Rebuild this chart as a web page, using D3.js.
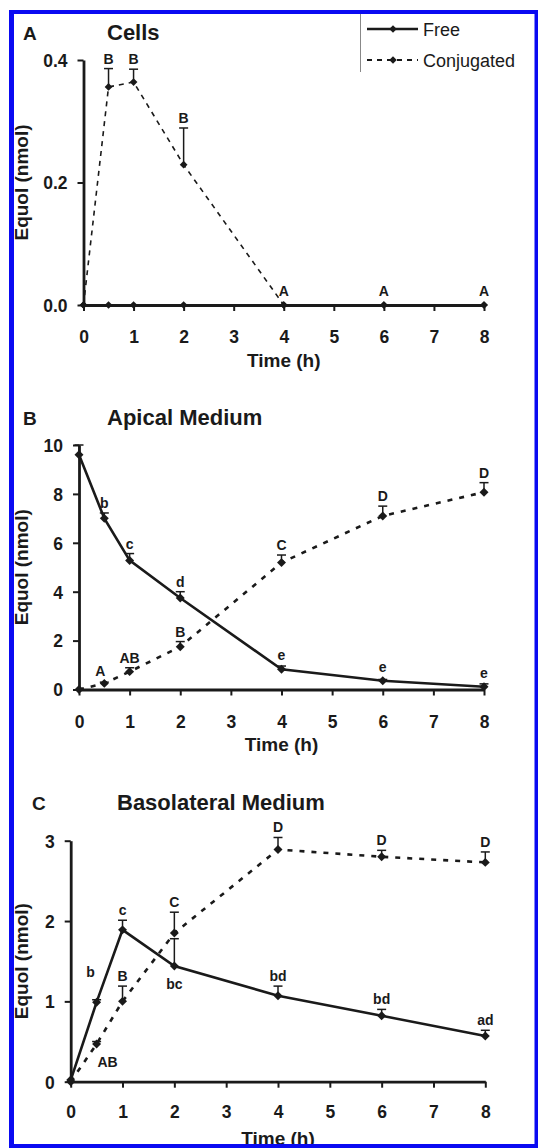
<!DOCTYPE html>
<html>
<head>
<meta charset="utf-8">
<script src="https://cdn.jsdelivr.net/npm/d3@7"></script>
<style>
  body { margin: 0; background: #fff; }
  svg { display: block; font-family: "Liberation Sans", Arial, sans-serif; }
</style>
</head>
<body>
<svg id="chart" width="538" height="1148"></svg>
<script>
// time points shared by every panel
const hours = [0, 0.5, 1, 2, 4, 6, 8];
const xTicks = [0, 1, 2, 3, 4, 5, 6, 7, 8];

// A: cells
const cellsFree = [0, 0, 0, 0, 0, 0, 0];
const cellsFreeSem = [0, 0, 0, 0, 0, 0, 0];
const cellsFreeLetters = ['', '', '', '', '', '', ''];
const cellsConj = [0, 0.356, 0.364, 0.229, 0, 0, 0];
const cellsConjSem = [0, 0.03, 0.021, 0.06, 0, 0, 0];
const cellsConjLetters = ['', 'B', 'B', 'B', 'A', 'A', 'A'];
const cellsTicks = [0, 0.2, 0.4];

// B: apical medium
const apicalFree = [9.6, 7.0, 5.28, 3.74, 0.83, 0.36, 0.11];
const apicalFreeSem = [0.4, 0.22, 0.28, 0.26, 0.13, 0.05, 0.12];
const apicalFreeLetters = ['', 'b', 'c', 'd', 'e', 'e', 'e'];
const apicalConj = [0, 0.25, 0.73, 1.75, 5.19, 7.1, 8.07];
const apicalConjSem = [0, 0.05, 0.16, 0.21, 0.31, 0.4, 0.39];
const apicalConjLetters = ['', 'A', 'AB', 'B', 'C', 'D', 'D'];
const apicalTicks = [0, 2, 4, 6, 8, 10];

// C: basolateral medium
const basoFree = [0.02, 0.99, 1.89, 1.44, 1.07, 0.82, 0.57];
const basoFreeSem = [0, 0.03, 0.12, 0.34, 0.12, 0.08, 0.07];
const basoFreeLetters = ['', 'b', 'c', 'bc', 'bd', 'bd', 'ad'];
const basoConj = [0, 0.47, 1.0, 1.85, 2.89, 2.80, 2.73];
const basoConjSem = [0, 0.03, 0.19, 0.26, 0.15, 0.08, 0.13];
const basoConjLetters = ['', 'AB', 'B', 'C', 'D', 'D', 'D'];
const basoTicks = [0, 1, 2, 3];

const ink = '#1a1a1a';
const svg = d3.select('#chart');

const panels = [
  { letter: 'A', title: 'Cells', letterX: 23, titleX: 107, titleY: 40,
    x0: 83.5, x1: 484, yBottom: 305, yTop: 60, yMax: 0.4, ticks: cellsTicks, fmt: d3.format('.1f'),
    tickY: 343, xTitleY: 367, thin: true,
    free: cellsFree, freeSem: cellsFreeSem, freeLetters: cellsFreeLetters,
    conj: cellsConj, conjSem: cellsConjSem, conjLetters: cellsConjLetters },
  { letter: 'B', title: 'Apical Medium', letterX: 23, titleX: 107, titleY: 425,
    x0: 79, x1: 484, yBottom: 689.5, yTop: 445, yMax: 10, ticks: apicalTicks, fmt: d3.format('d'),
    tickY: 727.5, xTitleY: 751, thin: false,
    free: apicalFree, freeSem: apicalFreeSem, freeLetters: apicalFreeLetters,
    conj: apicalConj, conjSem: apicalConjSem, conjLetters: apicalConjLetters },
  { letter: 'C', title: 'Basolateral Medium', letterX: 32, titleX: 117, titleY: 810,
    x0: 70.7, x1: 485.3, yBottom: 1081.7, yTop: 840.7, yMax: 3, ticks: basoTicks, fmt: d3.format('d'),
    tickY: 1118, xTitleY: 1145, thin: false,
    free: basoFree, freeSem: basoFreeSem, freeLetters: basoFreeLetters,
    conj: basoConj, conjSem: basoConjSem, conjLetters: basoConjLetters }
];

// a few letters sit off the default "above the bar" spot
const letterNudge = {
  'C-free-1': { dx: -6, dy: -16 },
  'C-free-3': { below: true },
  'C-conj-1': { below: true, dx: 11 },
  'B-conj-1': { dx: -4, dy: 2 }
};

const diamond = d3.symbol().type(d3.symbolSquare);

panels.forEach(p => {
  const x = d3.scaleLinear().domain([0, 8]).range([p.x0, p.x1]);
  const y = d3.scaleLinear().domain([0, p.yMax]).range([p.yBottom, p.yTop]);
  const g = svg.append('g');

  // axes
  const xAxis = g.append('g')
    .attr('transform', `translate(0,${p.yBottom})`)
    .call(d3.axisBottom(x).tickValues(xTicks).tickSize(6).tickSizeOuter(0).tickPadding(20));
  const yAxis = g.append('g')
    .attr('transform', `translate(${p.x0},0)`)
    .call(d3.axisLeft(y).tickValues(p.ticks).tickFormat(p.fmt).tickSize(6).tickSizeOuter(0).tickPadding(10));

  [xAxis, yAxis].forEach(a => {
    a.select('.domain').attr('stroke', ink).attr('stroke-width', 2.8);
    a.selectAll('.tick line').attr('stroke', ink).attr('stroke-width', 2);
    a.selectAll('.tick text')
      .attr('fill', ink)
      .attr('font-size', '17.5px')
      .attr('font-weight', 'bold')
      .attr('font-family', '"Liberation Sans", Arial, sans-serif');
  });
  xAxis.selectAll('.tick text').attr('dy', null).attr('y', p.tickY - p.yBottom);
  yAxis.selectAll('.tick text').attr('dy', '0.36em');

  // titles
  g.append('text').attr('x', p.letterX).attr('y', p.titleY)
    .attr('font-size', '19px').attr('font-weight', 'bold').attr('fill', ink).text(p.letter);
  g.append('text').attr('x', p.titleX).attr('y', p.titleY)
    .attr('font-size', '22px').attr('font-weight', 'bold').attr('fill', ink).text(p.title);
  g.append('text')
    .attr('x', (p.x0 + p.x1) / 2).attr('y', p.xTitleY)
    .attr('text-anchor', 'middle')
    .attr('font-size', '19px').attr('font-weight', 'bold').attr('fill', ink)
    .text('Time (h)');
  g.append('text')
    .attr('transform', `translate(21,${(p.yBottom + p.yTop) / 2}) rotate(-90)`)
    .attr('text-anchor', 'middle').attr('dominant-baseline', 'central')
    .attr('font-size', '19px').attr('font-weight', 'bold').attr('fill', ink)
    .text('Equol (nmol)');

  const lw = p.thin ? 2 : 2.6;
  const line = d3.line().x((d, i) => x(hours[i])).y(d => y(d));

  const series = [
    { key: 'conj', vals: p.conj, sem: p.conjSem, letters: p.conjLetters, dash: p.thin ? '5,5' : '5,7', w: p.thin ? 1.6 : 2.6 },
    { key: 'free', vals: p.free, sem: p.freeSem, letters: p.freeLetters, dash: null, w: lw }
  ];

  series.forEach(s => {
    g.append('path')
      .attr('d', line(s.vals))
      .attr('fill', 'none')
      .attr('stroke', ink)
      .attr('stroke-width', s.w)
      .attr('stroke-dasharray', s.dash);

    // upper error bars
    s.vals.forEach((v, i) => {
      if (!s.sem[i]) return;
      const cx = x(hours[i]);
      const top = y(v + s.sem[i]);
      g.append('line').attr('x1', cx).attr('x2', cx).attr('y1', y(v)).attr('y2', top)
        .attr('stroke', ink).attr('stroke-width', 1.5);
      g.append('line').attr('x1', cx - 4.5).attr('x2', cx + 4.5).attr('y1', top).attr('y2', top)
        .attr('stroke', ink).attr('stroke-width', 1.5);
    });

    // diamond markers
    g.selectAll(null)
      .data(s.vals)
      .join('path')
      .attr('d', diamond.size(p.thin ? 30 : 40)())
      .attr('transform', (d, i) => `translate(${x(hours[i])},${y(d)}) rotate(45)`)
      .attr('fill', ink);

    // significance letters
    s.letters.forEach((t, i) => {
      if (!t) return;
      const n = letterNudge[`${p.letter}-${s.key}-${i}`] || {};
      const cy = y(s.vals[i]);
      const top = Math.min(cy - 4, y(s.vals[i] + s.sem[i]));
      const ly = n.below ? cy + 18 : top - 10 + (n.dy || 0);
      g.append('text')
        .attr('x', x(hours[i]) + (n.dx || 0))
        .attr('y', ly)
        .attr('text-anchor', 'middle')
        .attr('dominant-baseline', 'central')
        .attr('font-size', '14px')
        .attr('font-weight', 'bold')
        .attr('fill', ink)
        .text(t);
    });
  });
});

// legend, top right of panel A
const legend = svg.append('g');
legend.append('line').attr('x1', 360.5).attr('x2', 360.5).attr('y1', 14).attr('y2', 72)
  .attr('stroke', '#888').attr('stroke-width', 1);
[{ label: 'Free', y: 29, dash: null }, { label: 'Conjugated', y: 60, dash: '5,5' }].forEach(e => {
  legend.append('line').attr('x1', 367).attr('x2', 418).attr('y1', e.y).attr('y2', e.y)
    .attr('stroke', ink).attr('stroke-width', e.dash ? 1.8 : 2.4).attr('stroke-dasharray', e.dash);
  legend.append('path').attr('d', diamond.size(28)())
    .attr('transform', `translate(393,${e.y}) rotate(45)`).attr('fill', ink);
  legend.append('text').attr('x', 423).attr('y', e.y + 6.5)
    .attr('font-size', '18px').attr('fill', ink).text(e.label);
});

// blue frame round the figure
svg.append('rect').attr('x', 11.5).attr('y', 12).attr('width', 525).attr('height', 1134)
  .attr('fill', 'none').attr('stroke', '#0a0af2').attr('stroke-width', 4);
svg.append('rect').attr('x', 9).attr('y', 10).attr('width', 5).attr('height', 1138).attr('fill', '#0a0af2');
</script>
</body>
</html>
